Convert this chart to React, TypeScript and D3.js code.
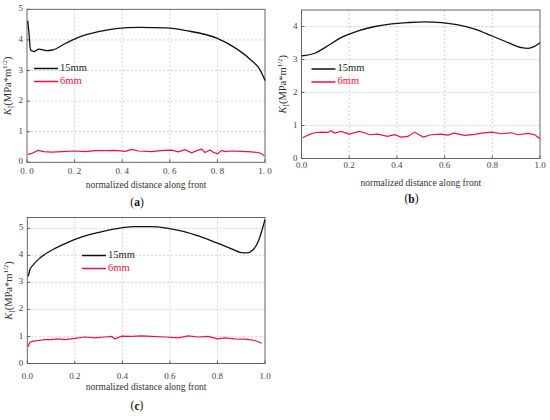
import React from "react";
import * as d3 from "d3";

type P = [number, number];

// ---- data (normalized distance, K_I) ----
const xTicks = [0, 0.2, 0.4, 0.6, 0.8, 1.0];
const yTicksA = [0, 1, 2, 3, 4, 5];
const yTicksB = [0, 1, 2, 3, 4];
const yTicksC = [0, 1, 2, 3, 4, 5];
const seriesNames = ["15mm", "6mm"];
const panelLabels = ["a", "b", "c"];

const a15: P[] = [
  [0.003, 4.63], [0.008, 4.25], [0.015, 3.67], [0.03, 3.62], [0.05, 3.7], [0.065, 3.68],
  [0.08, 3.65], [0.107, 3.67], [0.163, 3.89], [0.233, 4.13], [0.3, 4.27], [0.374, 4.37],
  [0.47, 4.41], [0.585, 4.39], [0.67, 4.3], [0.8, 4.05], [0.866, 3.78], [0.937, 3.37],
  [0.979, 3.02], [0.99, 2.85], [1.0, 2.67],
];
const a6: P[] = [
  [0.004, 0.26], [0.02, 0.29], [0.046, 0.39], [0.07, 0.35], [0.105, 0.33], [0.147, 0.35],
  [0.2, 0.37], [0.245, 0.35], [0.287, 0.38], [0.33, 0.38], [0.37, 0.39], [0.413, 0.36],
  [0.44, 0.42], [0.468, 0.37], [0.524, 0.35], [0.573, 0.39], [0.608, 0.4], [0.636, 0.34],
  [0.664, 0.41], [0.692, 0.31], [0.713, 0.38], [0.734, 0.43], [0.748, 0.32], [0.769, 0.4],
  [0.783, 0.33], [0.8, 0.28], [0.818, 0.39], [0.832, 0.35], [0.86, 0.37], [0.9, 0.36],
  [0.944, 0.34], [0.972, 0.32], [0.986, 0.28], [0.997, 0.21],
];
const b15: P[] = [
  [0.0, 3.11], [0.056, 3.19], [0.098, 3.36], [0.168, 3.67], [0.238, 3.87], [0.308, 4.0],
  [0.378, 4.08], [0.448, 4.12], [0.517, 4.14], [0.587, 4.12], [0.657, 4.05], [0.727, 3.92],
  [0.797, 3.72], [0.867, 3.51], [0.923, 3.36], [0.951, 3.34], [0.972, 3.38], [1.0, 3.51],
];
const b6: P[] = [
  [0.006, 0.63], [0.027, 0.71], [0.055, 0.78], [0.083, 0.8], [0.11, 0.79], [0.125, 0.84],
  [0.138, 0.77], [0.166, 0.82], [0.2, 0.74], [0.243, 0.82], [0.264, 0.78], [0.285, 0.72],
  [0.32, 0.74], [0.36, 0.67], [0.39, 0.72], [0.418, 0.65], [0.446, 0.67], [0.474, 0.8],
  [0.51, 0.65], [0.544, 0.72], [0.585, 0.74], [0.614, 0.71], [0.64, 0.77], [0.684, 0.7],
  [0.726, 0.73], [0.754, 0.77], [0.796, 0.8], [0.838, 0.75], [0.88, 0.78], [0.908, 0.72],
  [0.95, 0.76], [0.978, 0.72], [1.0, 0.6],
];
const c15: P[] = [
  [0.004, 3.22], [0.011, 3.47], [0.025, 3.65], [0.053, 3.9], [0.095, 4.15], [0.166, 4.46],
  [0.236, 4.7], [0.306, 4.86], [0.376, 4.99], [0.446, 5.06], [0.516, 5.06], [0.586, 5.01],
  [0.656, 4.89], [0.726, 4.7], [0.797, 4.46], [0.867, 4.21], [0.895, 4.11], [0.923, 4.09],
  [0.95, 4.21], [0.972, 4.52], [0.986, 4.89], [1.0, 5.32],
];
const c6: P[] = [
  [0.004, 0.63], [0.011, 0.79], [0.025, 0.83], [0.046, 0.85], [0.074, 0.88], [0.1, 0.88],
  [0.13, 0.91], [0.158, 0.88], [0.2, 0.93], [0.243, 0.98], [0.285, 0.95], [0.327, 0.98],
  [0.355, 1.0], [0.369, 0.91], [0.397, 1.01], [0.44, 1.0], [0.48, 1.02], [0.523, 1.0],
  [0.58, 0.98], [0.635, 0.95], [0.677, 1.02], [0.72, 0.98], [0.76, 1.0], [0.8, 0.91],
  [0.83, 0.95], [0.874, 0.91], [0.916, 0.9], [0.958, 0.85], [0.986, 0.75],
];

const RED = "#ff0a3c";
const FONT = "Liberation Serif, serif";

interface PanelProps {
  left: number; right: number; top: number; bottom: number;
  yMax: number; yTicks: number[];
  s15: P[]; s6: P[];
  legX: number; legY: number;
  label: string; labelX: number; labelY: number;
  tickY: number; titleY: number; ylabX: number;
  spaced?: boolean;
}

function Panel(p: PanelProps) {
  const x = d3.scaleLinear().domain([0, 1]).range([p.left, p.right]);
  const y = d3.scaleLinear().domain([0, p.yMax]).range([p.bottom, p.top]);
  const black = d3.line<P>().x(d => x(d[0])).y(d => y(d[1])).curve(d3.curveMonotoneX);
  const red = d3.line<P>().x(d => x(d[0])).y(d => y(d[1]));
  const fmt = (v: number) => (p.spaced ? v.toFixed(1).replace(".", ". ") : v.toFixed(1));
  const cy = (p.top + p.bottom) / 2;
  return (
    <g fontFamily={FONT}>
      {xTicks.slice(1, -1).map(t => (
        <line key={"gx" + t} x1={x(t)} x2={x(t)} y1={p.top} y2={p.bottom}
          stroke="#c8c8c8" strokeWidth={0.8} strokeDasharray="2,2" />
      ))}
      {p.yTicks.filter(t => t > 0 && y(t) > p.top + 1).map(t => (
        <line key={"gy" + t} x1={p.left} x2={p.right} y1={y(t)} y2={y(t)}
          stroke="#c8c8c8" strokeWidth={0.8} strokeDasharray="2,2" />
      ))}
      {xTicks.map(t => (
        <line key={"tx" + t} x1={x(t)} x2={x(t)} y1={p.bottom} y2={p.bottom - 3} stroke="#444" strokeWidth={0.8} />
      ))}
      {p.yTicks.map(t => (
        <line key={"ty" + t} x1={p.left} x2={p.left + 3} y1={y(t)} y2={y(t)} stroke="#444" strokeWidth={0.8} />
      ))}
      <rect x={p.left} y={p.top} width={p.right - p.left} height={p.bottom - p.top}
        fill="none" stroke="#555" strokeWidth={0.9} />
      {xTicks.map(t => (
        <text key={"lx" + t} x={x(t)} y={p.tickY} fontSize={9} fill="#444" textAnchor="middle"
          dominantBaseline="middle" style={{ whiteSpace: "pre" }}>{fmt(t)}</text>
      ))}
      {p.yTicks.map(t => (
        <text key={"ly" + t} x={p.left - 4} y={y(t)} fontSize={9} fill="#444" textAnchor="end"
          dominantBaseline="middle">{t}</text>
      ))}
      <path d={red(p.s6) || ""} fill="none" stroke={RED} strokeWidth={1.2} />
      <path d={black(p.s15) || ""} fill="none" stroke="#111" strokeWidth={1.3} />
      <line x1={p.legX} x2={p.legX + 24} y1={p.legY} y2={p.legY} stroke="#111" strokeWidth={1.5} />
      <text x={p.legX + 26} y={p.legY} fontSize={10.5} fill="#222" dominantBaseline="middle">{seriesNames[0]}</text>
      <line x1={p.legX} x2={p.legX + 24} y1={p.legY + 13} y2={p.legY + 13} stroke={RED} strokeWidth={1.5} />
      <text x={p.legX + 26} y={p.legY + 13} fontSize={10.5} fill={RED} dominantBaseline="middle">{seriesNames[1]}</text>
      <text x={(p.left + p.right) / 2} y={p.titleY} fontSize={9.5} fill="#333" textAnchor="middle"
        dominantBaseline="middle">normalized distance along front</text>
      <text transform={`translate(${p.ylabX},${cy}) rotate(-90)`} fontSize={10.5} fill="#333"
        textAnchor="middle" dominantBaseline="middle">
        <tspan fontStyle="italic">K</tspan>
        <tspan fontSize={7.5} dy={3}>I</tspan>
        <tspan dy={-3}>(MPa*m</tspan>
        <tspan fontSize={7} dy={-4}>1/2</tspan>
        <tspan dy={4}>)</tspan>
      </text>
      <text x={p.labelX} y={p.labelY} fontSize={11.5} fill="#111" textAnchor="middle" dominantBaseline="middle">
        (<tspan fontWeight="bold">{p.label}</tspan>)
      </text>
    </g>
  );
}

export default function App() {
  return (
    <svg width={550} height={420} viewBox="0 0 550 420"
      style={{ position: "absolute", left: 0, top: 0, background: "#fff" }}>
      <rect width={550} height={420} fill="#fff" />
      <Panel left={27} right={265} top={9.3} bottom={162.3} yMax={5} yTicks={yTicksA}
        s15={a15} s6={a6} legX={34} legY={68.5} label={panelLabels[0]} labelX={137} labelY={203}
        tickY={172} titleY={185.5} ylabX={9} spaced />
      <Panel left={301.5} right={540} top={10} bottom={158.5} yMax={4.5} yTicks={yTicksB}
        s15={b15} s6={b6} legX={311.5} legY={69} label={panelLabels[1]} labelX={411.5} labelY={199.5}
        tickY={166} titleY={183.5} ylabX={284} />
      <Panel left={27.3} right={265} top={217.5} bottom={363.5} yMax={5.4} yTicks={yTicksC}
        s15={c15} s6={c6} legX={82} legY={255.5} label={panelLabels[2]} labelX={137} labelY={406.5}
        tickY={376.5} titleY={388} ylabX={10} />
    </svg>
  );
}
